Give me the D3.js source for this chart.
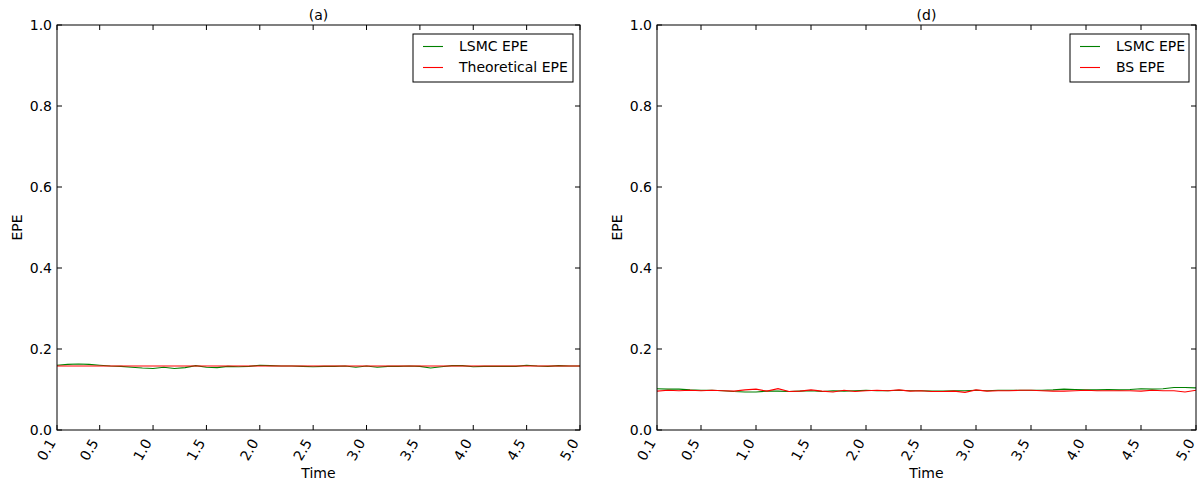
<!DOCTYPE html>
<html>
<head>
<meta charset="utf-8">
<script src="https://cdn.jsdelivr.net/npm/d3@7"></script>
<style>
  body { margin: 0; background: #fff; }
  text { font-family: "DejaVu Sans", sans-serif; }
</style>
</head>
<body>
<div id="chart"></div>
<script>
// EPE over time, two panels: (a) LSMC vs theoretical, (d) LSMC vs BS
const times = [0.1,0.2,0.3,0.4,0.5,0.6,0.7,0.8,0.9,1.0,
  1.1,1.2,1.3,1.4,1.5,1.6,1.7,1.8,1.9,2.0,
  2.1,2.2,2.3,2.4,2.5,2.6,2.7,2.8,2.9,3.0,
  3.1,3.2,3.3,3.4,3.5,3.6,3.7,3.8,3.9,4.0,
  4.1,4.2,4.3,4.4,4.5,4.6,4.7,4.8,4.9,5.0];
const xTicks = [0.1,0.5,1.0,1.5,2.0,2.5,3.0,3.5,4.0,4.5,5.0];
const yTicks = [0.0,0.2,0.4,0.6,0.8,1.0];

const lsmcA = [0.160,0.162,0.163,0.162,0.160,0.158,0.157,0.155,0.153,0.152,
  0.155,0.152,0.154,0.159,0.155,0.154,0.157,0.156,0.157,0.160,
  0.159,0.158,0.158,0.157,0.156,0.157,0.157,0.158,0.155,0.158,
  0.155,0.157,0.157,0.158,0.157,0.153,0.156,0.159,0.159,0.156,
  0.157,0.157,0.157,0.157,0.160,0.158,0.157,0.159,0.158,0.158];
const theoA = [0.158,0.158,0.158,0.158,0.158,0.158,0.158,0.158,0.158,0.158,
  0.158,0.158,0.158,0.158,0.158,0.158,0.158,0.158,0.158,0.158,
  0.158,0.158,0.158,0.158,0.158,0.158,0.158,0.158,0.158,0.158,
  0.158,0.158,0.158,0.158,0.158,0.158,0.158,0.158,0.158,0.158,
  0.158,0.158,0.158,0.158,0.158,0.158,0.158,0.158,0.158,0.158];

const lsmcD = [0.102,0.101,0.101,0.099,0.098,0.098,0.097,0.095,0.094,0.094,
  0.096,0.096,0.095,0.096,0.097,0.095,0.097,0.096,0.097,0.098,
  0.097,0.097,0.098,0.097,0.097,0.096,0.096,0.097,0.097,0.098,
  0.097,0.098,0.098,0.098,0.098,0.098,0.099,0.101,0.100,0.099,
  0.099,0.100,0.099,0.100,0.102,0.101,0.102,0.105,0.105,0.104];
const bsD = [0.096,0.098,0.097,0.098,0.097,0.098,0.097,0.096,0.099,0.101,
  0.096,0.102,0.095,0.096,0.099,0.096,0.094,0.098,0.095,0.097,
  0.098,0.097,0.099,0.096,0.097,0.095,0.095,0.096,0.093,0.099,
  0.096,0.097,0.097,0.098,0.098,0.097,0.096,0.096,0.097,0.098,
  0.097,0.097,0.097,0.097,0.096,0.098,0.097,0.097,0.094,0.098];

const W = 1197, H = 483;
const svg = d3.select("#chart").append("svg").attr("width", W).attr("height", H);

function panel(left, right, title, series, legendW) {
  const top = 25, bottom = 430;
  const x = d3.scaleLinear().domain([0.1, 5.0]).range([left, right]);
  const y = d3.scaleLinear().domain([0, 1]).range([bottom, top]);
  const g = svg.append("g");

  // lines
  const line = d3.line().x((d, i) => x(times[i])).y(d => y(d));
  series.forEach(s => {
    g.append("path").datum(s.values).attr("d", line)
      .attr("fill", "none").attr("stroke", s.color).attr("stroke-width", 1.1);
  });

  // inward ticks on all four sides
  const tl = 5;
  xTicks.forEach(t => {
    g.append("line").attr("x1", x(t)).attr("x2", x(t)).attr("y1", bottom).attr("y2", bottom - tl).attr("stroke", "#000");
    g.append("line").attr("x1", x(t)).attr("x2", x(t)).attr("y1", top).attr("y2", top + tl).attr("stroke", "#000");
    g.append("text").attr("transform", `translate(${x(t) - 5},${bottom + 10}) rotate(-60)`)
      .attr("text-anchor", "end").attr("dy", "0.35em").style("font-size", "14px")
      .text(t.toFixed(1));
  });
  yTicks.forEach(t => {
    g.append("line").attr("x1", left).attr("x2", left + tl).attr("y1", y(t)).attr("y2", y(t)).attr("stroke", "#000");
    g.append("line").attr("x1", right).attr("x2", right - tl).attr("y1", y(t)).attr("y2", y(t)).attr("stroke", "#000");
    g.append("text").attr("x", left - 5).attr("y", y(t)).attr("dy", "0.35em")
      .attr("text-anchor", "end").style("font-size", "14px").text(t.toFixed(1));
  });

  g.append("rect").attr("x", left).attr("y", top).attr("width", right - left).attr("height", bottom - top)
    .attr("fill", "none").attr("stroke", "#000").attr("stroke-width", 1);

  g.append("text").attr("x", (left + right) / 2).attr("y", 20).attr("text-anchor", "middle")
    .style("font-size", "14px").text(title);
  g.append("text").attr("x", (left + right) / 2).attr("y", 478).attr("text-anchor", "middle")
    .style("font-size", "14px").text("Time");
  g.append("text").attr("transform", `translate(${left - 35},${(top + bottom) / 2}) rotate(-90)`)
    .attr("text-anchor", "middle").style("font-size", "14px").text("EPE");

  // legend
  const lx = right - 7 - legendW, ly = 34;
  g.append("rect").attr("x", lx).attr("y", ly).attr("width", legendW).attr("height", 48)
    .attr("fill", "#fff").attr("stroke", "#000");
  series.forEach((s, i) => {
    const yy = ly + 12.5 + i * 21;
    g.append("line").attr("x1", lx + 10).attr("x2", lx + 30).attr("y1", yy).attr("y2", yy)
      .attr("stroke", s.color).attr("stroke-width", 1.1);
    g.append("text").attr("x", lx + 46).attr("y", yy).attr("dy", "0.35em")
      .style("font-size", "14px").text(s.name);
  });
}

panel(57, 580, "(a)", [
  {name: "LSMC EPE", color: "#008000", values: lsmcA},
  {name: "Theoretical EPE", color: "#ff0000", values: theoA}
], 160);

panel(657, 1196, "(d)", [
  {name: "LSMC EPE", color: "#008000", values: lsmcD},
  {name: "BS EPE", color: "#ff0000", values: bsD}
], 119);
</script>
</body>
</html>
